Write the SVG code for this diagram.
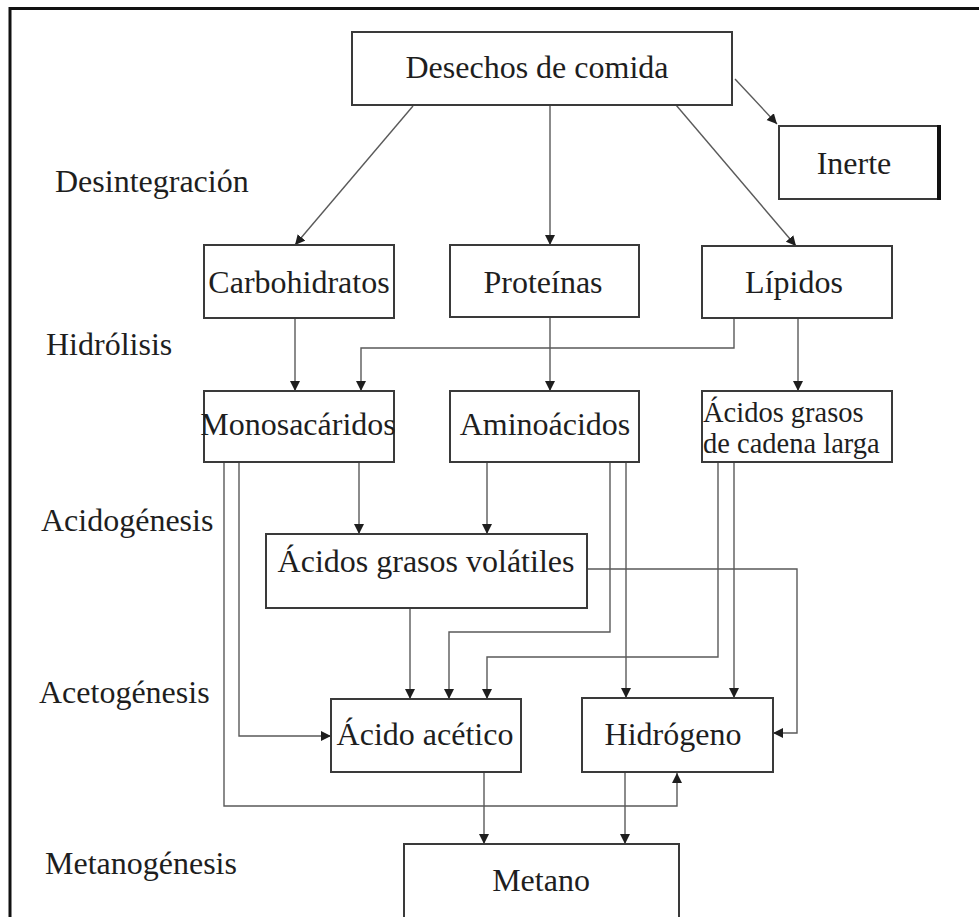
<svg xmlns="http://www.w3.org/2000/svg" width="979" height="917" viewBox="0 0 979 917">
<defs>
<style>
.box{fill:#fff;stroke:#3a3a3a;stroke-width:2}
.t{font-family:"Liberation Serif","Times New Roman",serif;font-size:32px;fill:#1e1e1e}
.c{text-anchor:middle}
.s{font-size:28.5px}
.ln{fill:none;stroke:#5a5a5a;stroke-width:1.4;marker-end:url(#ah)}
</style>
<marker id="ah" viewBox="0 0 10 10" refX="10" refY="5" markerWidth="10" markerHeight="11" markerUnits="userSpaceOnUse" orient="auto">
<path d="M0,0 L10,5 L0,10 Z" fill="#1e1e1e"/>
</marker>
</defs>
<rect width="979" height="917" fill="#fff"/>
<path d="M10,917 V8.5 H979" fill="none" stroke="#111" stroke-width="3"/>

<g id="stages">
<text class="t" x="55" y="192">Desintegración</text>
<text class="t" x="46" y="355">Hidrólisis</text>
<text class="t" x="41" y="531">Acidogénesis</text>
<text class="t" x="39" y="703">Acetogénesis</text>
<text class="t" x="45" y="874">Metanogénesis</text>
</g>

<g id="connectors">
<path class="ln" d="M413,106 L295,245"/>
<path class="ln" d="M550,105 V245"/>
<path class="ln" d="M676,105 L796,246"/>
<path class="ln" d="M735,79 L777,124"/>
<path class="ln" d="M295,318 V391"/>
<path class="ln" d="M734,318 V348 H361 V391"/>
<path class="ln" d="M550,317 V391"/>
<path class="ln" d="M798,318 V391"/>
<path class="ln" d="M359,462 V534"/>
<path class="ln" d="M487,462 V534"/>
<path class="ln" d="M239,462 V736 H331"/>
<path class="ln" d="M224,462 V806 H677 V773"/>
<path class="ln" d="M410,608 V699"/>
<path class="ln" d="M610,462 V632 H449 V699"/>
<path class="ln" d="M718,462 V657 H487 V699"/>
<path class="ln" d="M626,462 V698"/>
<path class="ln" d="M734,462 V698"/>
<path class="ln" d="M587,569 H797 V733 H773"/>
<path class="ln" d="M484,772 V844"/>
<path class="ln" d="M625,772 V844"/>
</g>

<g id="desechos">
<rect class="box" x="352" y="32" width="380" height="73"/>
<text class="t c" x="537" y="78">Desechos de comida</text>
</g>
<g id="inerte">
<rect class="box" x="779" y="126" width="160" height="73"/>
<line x1="939" y1="125" x2="939" y2="200" stroke="#111" stroke-width="4"/>
<text class="t c" x="854" y="174">Inerte</text>
</g>
<g id="carbohidratos">
<rect class="box" x="204" y="245" width="190" height="73"/>
<text class="t c" x="299" y="293">Carbohidratos</text>
</g>
<g id="proteinas">
<rect class="box" x="450" y="245" width="189" height="72"/>
<text class="t c" x="543" y="293">Proteínas</text>
</g>
<g id="lipidos">
<rect class="box" x="702" y="246" width="190" height="72"/>
<text class="t c" x="794" y="293">Lípidos</text>
</g>
<g id="monosacaridos">
<rect class="box" x="204" y="391" width="190" height="71"/>
<text class="t c" x="298" y="435">Monosacáridos</text>
</g>
<g id="aminoacidos">
<rect class="box" x="450" y="391" width="189" height="71"/>
<text class="t c" x="545" y="435">Aminoácidos</text>
</g>
<g id="agcl">
<rect class="box" x="702" y="391" width="190" height="71"/>
<text class="t s" x="703" y="422">Ácidos grasos</text>
<text class="t s" x="703" y="453">de cadena larga</text>
</g>
<g id="agv">
<rect class="box" x="266" y="534" width="321" height="74"/>
<text class="t c" x="426" y="572">Ácidos grasos volátiles</text>
</g>
<g id="acido-acetico">
<rect class="box" x="331" y="699" width="190" height="73"/>
<text class="t c" x="425" y="745">Ácido acético</text>
</g>
<g id="hidrogeno">
<rect class="box" x="582" y="698" width="191" height="74"/>
<text class="t c" x="673" y="745">Hidrógeno</text>
</g>
<g id="metano">
<rect class="box" x="404" y="844" width="275" height="100"/>
<text class="t c" x="541" y="891">Metano</text>
</g>
</svg>
